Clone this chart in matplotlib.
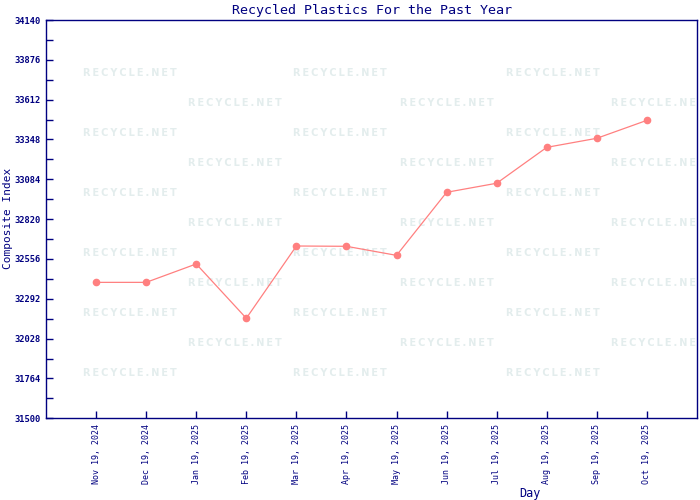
import matplotlib
matplotlib.use("Agg")
import matplotlib.pyplot as plt
from matplotlib.ticker import FixedLocator

# data
days = ["Nov 19, 2024", "Dec 19, 2024", "Jan 19, 2025", "Feb 19, 2025",
        "Mar 19, 2025", "Apr 19, 2025", "May 19, 2025", "Jun 19, 2025",
        "Jul 19, 2025", "Aug 19, 2025", "Sep 19, 2025", "Oct 19, 2025"]
index_values = [32401, 32401, 32523, 32163, 32642, 32640,
                32580, 32998, 33058, 33296, 33356, 33475]
y_ticks = [31500, 31764, 32028, 32292, 32556, 32820,
           33084, 33348, 33612, 33876, 34140]

navy = "#000080"
mono = "DejaVu Sans Mono"

fig = plt.figure(figsize=(7, 5), dpi=100)
ax = fig.add_axes([46 / 700, 1 - 418.3 / 500, 651 / 700, 398.3 / 500])

x = list(range(len(days)))
ax.plot(x, index_values, color="#ff8080", linewidth=0.9, marker="o",
        markersize=4.5, zorder=3)

ax.set_xlim(-1, 12)
ax.set_ylim(y_ticks[0], y_ticks[-1])
ax.set_xticks(x)
ax.set_xticklabels(days, rotation=90, family=mono, fontsize=6, color=navy)
ax.set_yticks(y_ticks)
ax.set_yticklabels([str(v) for v in y_ticks], family=mono, fontsize=6.3,
                   color=navy, fontweight="bold")
minor = [(a + b) / 2 for a, b in zip(y_ticks[:-1], y_ticks[1:])]
ax.yaxis.set_minor_locator(FixedLocator(minor))
ax.tick_params(axis="both", which="both", direction="in", length=5,
               color=navy, width=1)
ax.tick_params(axis="x", pad=4)
ax.tick_params(axis="y", pad=4)
for s in ax.spines.values():
    s.set_color(navy)
    s.set_linewidth(1)

ax.set_title("Recycled Plastics For the Past Year", family=mono, fontsize=9.6,
             color=navy, pad=4)
fig.text(8 / 700, 1 - 218 / 500, "Composite Index", family=mono, fontsize=8,
         color=navy, rotation=90, ha="center", va="center")
fig.text(530 / 700, 1 - 494 / 500, "Day", family=mono, fontsize=8.5,
         color=navy, ha="center", va="center")

# faint tiled watermark behind the data
mark = "\u2009".join("RECYCLE.NET")
for row in range(11):
    py = 73 + 30 * row
    cols = [130, 340, 553] if row % 2 == 0 else [235, 447, 658]
    for px in cols:
        ax.text(px / 700, 1 - py / 500, mark, transform=fig.transFigure,
                ha="center", va="center", fontsize=7, fontweight="bold",
                color="#e3eded", zorder=0.5, clip_on=True)

fig.savefig("out.png", dpi=100)
